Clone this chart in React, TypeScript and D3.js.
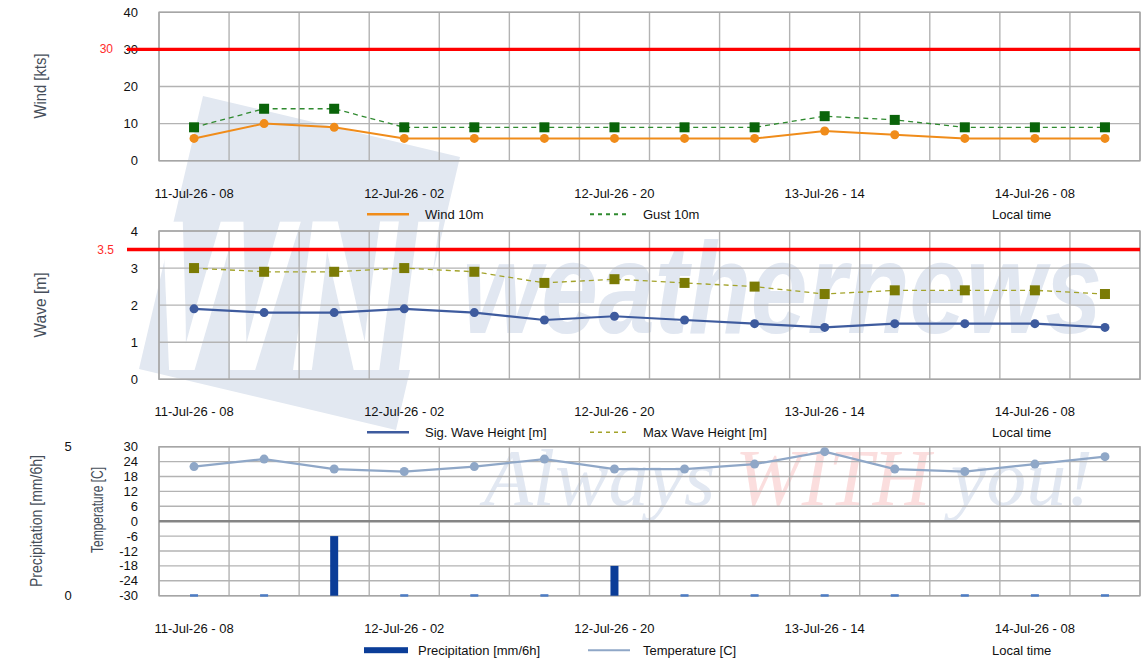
import React from 'react';
import * as d3 from 'd3';

const times = [
  '11-Jul-26 - 08', '11-Jul-26 - 14', '11-Jul-26 - 20',
  '12-Jul-26 - 02', '12-Jul-26 - 08', '12-Jul-26 - 14', '12-Jul-26 - 20',
  '13-Jul-26 - 02', '13-Jul-26 - 08', '13-Jul-26 - 14', '13-Jul-26 - 20',
  '14-Jul-26 - 02', '14-Jul-26 - 08', '14-Jul-26 - 14',
];
const wind = [6, 10, 9, 6, 6, 6, 6, 6, 6, 8, 7, 6, 6, 6];
const gust = [9, 14, 14, 9, 9, 9, 9, 9, 9, 12, 11, 9, 9, 9];
const sigWave = [1.9, 1.8, 1.8, 1.9, 1.8, 1.6, 1.7, 1.6, 1.5, 1.4, 1.5, 1.5, 1.5, 1.4];
const maxWave = [3.0, 2.9, 2.9, 3.0, 2.9, 2.6, 2.7, 2.6, 2.5, 2.3, 2.4, 2.4, 2.4, 2.3];
const precip = [0, 0, 2, 0, 0, 0, 1, 0, 0, 0, 0, 0, 0, 0];
const temp = [22, 25, 21, 20, 22, 25, 21, 21, 23, 28, 21, 20, 23, 26];

const windTicks = [0, 10, 20, 30, 40];
const waveTicks = [0, 1, 2, 3, 4];
const tempTicks = [-30, -24, -18, -12, -6, 0, 6, 12, 18, 24, 30];
const precipTicks = [0, 5];
const windLimit = 30;
const waveLimit = 3.5;

const FONT = '"Liberation Sans", Arial, sans-serif';
const W = 1144;
const H = 661;
const LEFT = 159;
const RIGHT = 1140;

const x = d3.scaleBand<number>().domain(d3.range(times.length)).range([LEFT, RIGHT]).padding(0);
const cx = (i: number) => (x(i) as number) + x.bandwidth() / 2;

const panels = [
  { top: 12.3, bottom: 160.7 },
  { top: 231, bottom: 379.3 },
  { top: 446.7, bottom: 595.7 },
];

const yWind = d3.scaleLinear().domain([0, 40]).range([panels[0].bottom, panels[0].top]);
const yWave = d3.scaleLinear().domain([0, 4]).range([panels[1].bottom, panels[1].top]);
const yTemp = d3.scaleLinear().domain([-30, 30]).range([panels[2].bottom, panels[2].top]);
const yPrec = d3.scaleLinear().domain([0, 5]).range([panels[2].bottom, panels[2].top]);

const GRID = '#b3b3b3';
const TITLE = '#464e5a';

function Grid({ top, bottom, ys }: { top: number; bottom: number; ys: number[] }) {
  const xs = d3.range(times.length + 1).map((i) => (i < times.length ? (x(i) as number) : RIGHT));
  return (
    <g>
      {ys.map((y, i) => (
        <line key={'h' + i} x1={LEFT} x2={RIGHT} y1={y} y2={y} stroke={GRID} strokeWidth={1.4} />
      ))}
      {xs.map((xx, i) => (
        <line key={'v' + i} x1={xx} x2={xx} y1={top} y2={bottom} stroke={GRID} strokeWidth={1.4} />
      ))}
      <rect x={LEFT} y={top} width={RIGHT - LEFT} height={bottom - top} fill="none" stroke="#a6a6a6" strokeWidth={1.4} />
    </g>
  );
}

function XLabels({ bottom }: { bottom: number }) {
  return (
    <g>
      {times.map((t, i) =>
        i % 3 === 0 ? (
          <text key={i} x={cx(i)} y={bottom + 37} textAnchor="middle" fontSize={13} fontFamily={FONT} fill="#111">
            {t}
          </text>
        ) : null
      )}
    </g>
  );
}

function YLabels({ ticks, scale, xr }: { ticks: number[]; scale: (v: number) => number; xr: number }) {
  return (
    <g>
      {ticks.map((t) => (
        <text key={t} x={xr} y={scale(t) + 4.5} textAnchor="end" fontSize={13} fontFamily={FONT} fill="#111">
          {t}
        </text>
      ))}
    </g>
  );
}

function VTitle({ cxp, cyp, text, len, size }: { cxp: number; cyp: number; text: string; len: number; size: number }) {
  return (
    <text
      transform={`translate(${cxp},${cyp}) rotate(-90)`}
      x={-len / 2}
      y={size * 0.36}
      fontSize={size}
      fontFamily={FONT}
      fill={TITLE}
      textLength={len}
      lengthAdjust="spacingAndGlyphs"
    >
      {text}
    </text>
  );
}

function Legend({ y, items }: { y: number; items: { tx: number; label: string; swatch: React.ReactNode }[] }) {
  return (
    <g>
      {items.map((it, i) => (
        <g key={i}>
          {it.swatch}
          <text x={it.tx} y={y + 4.5} fontSize={13} fontFamily={FONT} fill="#111">
            {it.label}
          </text>
        </g>
      ))}
      <text x={992} y={y + 4.5} fontSize={13} fontFamily={FONT} fill="#111">
        Local time
      </text>
    </g>
  );
}

export default function App() {
  const windLine = d3.line<number>().x((_, i) => cx(i)).y((d) => yWind(d));
  const sigLine = d3.line<number>().x((_, i) => cx(i)).y((d) => yWave(d));
  const tempLine = d3.line<number>().x((_, i) => cx(i)).y((d) => yTemp(d));

  const leg1 = panels[0].bottom + 53.5;
  const leg2 = panels[1].bottom + 53;
  const leg3 = panels[2].bottom + 54.5;
  const barW = 8;

  return (
    <svg width={W} height={H} style={{ position: 'absolute', left: 0, top: 0, background: '#fff' }}>
      <rect x={0} y={0} width={W} height={H} fill="#fff" />

      {/* watermark */}
      <g>
        <polygon points="203,96 460,157 396,430 139,369" fill="#e2e8f1" />
        <text x={152} y={370} fontSize={215} fontWeight={700} fontStyle="italic" fontFamily={FONT} fill="#fff" textLength={285} lengthAdjust="spacingAndGlyphs">
          WNI
        </text>
        <text x={462} y={333} fontSize={130} fontWeight={700} fontStyle="italic" fontFamily={FONT} fill="#e1e7f1" textLength={640} lengthAdjust="spacingAndGlyphs">
          weathernews
        </text>
        <text x={484} y={505} fontSize={80} fontStyle="italic" fontFamily={'"Liberation Serif", "Times New Roman", serif'}>
          <tspan fill="#e2e8f2">Always </tspan>
          <tspan fill="#fbdede">WITH </tspan>
          <tspan fill="#e2e8f2">you!</tspan>
        </text>
      </g>

      {/* Panel 1: wind */}
      <Grid top={panels[0].top} bottom={panels[0].bottom} ys={windTicks.map((t) => yWind(t))} />
      <YLabels ticks={windTicks} scale={yWind} xr={138} />
      <text x={113} y={yWind(windLimit) + 4} textAnchor="end" fontSize={12} fontFamily={FONT} fill="#ff2a2a">{windLimit}</text>
      <line x1={127} x2={RIGHT} y1={yWind(windLimit)} y2={yWind(windLimit)} stroke="#ff0000" strokeWidth={3.4} />
      <path d={windLine(gust) || ''} fill="none" stroke="#2f8a2f" strokeWidth={1.3} strokeDasharray="5,4" />
      {gust.map((d, i) => (
        <rect key={i} x={cx(i) - 5} y={yWind(d) - 5} width={10} height={10} fill="#0a640a" />
      ))}
      <path d={windLine(wind) || ''} fill="none" stroke="#f08c1a" strokeWidth={2} />
      {wind.map((d, i) => (
        <circle key={i} cx={cx(i)} cy={yWind(d)} r={4.5} fill="#f08c1a" />
      ))}
      <VTitle cxp={40} cyp={86} text="Wind [kts]" len={65} size={16} />
      <XLabels bottom={panels[0].bottom} />
      <Legend
        y={leg1}
        items={[
          { tx: 425, label: 'Wind 10m', swatch: <line x1={367} x2={409} y1={leg1} y2={leg1} stroke="#f08c1a" strokeWidth={2.5} /> },
          { tx: 643, label: 'Gust 10m', swatch: <line x1={590} x2={628} y1={leg1} y2={leg1} stroke="#2f8a2f" strokeWidth={2} strokeDasharray="4,4" /> },
        ]}
      />

      {/* Panel 2: wave */}
      <Grid top={panels[1].top} bottom={panels[1].bottom} ys={waveTicks.map((t) => yWave(t))} />
      <YLabels ticks={waveTicks} scale={yWave} xr={138} />
      <text x={114} y={yWave(waveLimit) + 4} textAnchor="end" fontSize={12} fontFamily={FONT} fill="#ff2a2a">{waveLimit}</text>
      <line x1={127} x2={RIGHT} y1={yWave(waveLimit)} y2={yWave(waveLimit)} stroke="#ff0000" strokeWidth={3.4} />
      <path d={sigLine(maxWave) || ''} fill="none" stroke="#a3a32a" strokeWidth={1.3} strokeDasharray="5,4" />
      {maxWave.map((d, i) => (
        <rect key={i} x={cx(i) - 5} y={yWave(d) - 5} width={10} height={10} fill="#7b7b05" />
      ))}
      <path d={sigLine(sigWave) || ''} fill="none" stroke="#3e5b9e" strokeWidth={2.2} />
      {sigWave.map((d, i) => (
        <circle key={i} cx={cx(i)} cy={yWave(d)} r={4.5} fill="#3e5b9e" />
      ))}
      <VTitle cxp={40} cyp={305} text="Wave [m]" len={65} size={16} />
      <XLabels bottom={panels[1].bottom} />
      <Legend
        y={leg2}
        items={[
          { tx: 425, label: 'Sig. Wave Height [m]', swatch: <line x1={367} x2={409} y1={leg2} y2={leg2} stroke="#3e5b9e" strokeWidth={2.5} /> },
          { tx: 643, label: 'Max Wave Height [m]', swatch: <line x1={590} x2={628} y1={leg2} y2={leg2} stroke="#a3a32a" strokeWidth={1.5} strokeDasharray="4,4" /> },
        ]}
      />

      {/* Panel 3: precipitation & temperature */}
      <Grid top={panels[2].top} bottom={panels[2].bottom} ys={tempTicks.map((t) => yTemp(t))} />
      <line x1={LEFT} x2={RIGHT} y1={yTemp(0)} y2={yTemp(0)} stroke="#858585" strokeWidth={2.6} />
      <YLabels ticks={tempTicks} scale={yTemp} xr={138} />
      {precipTicks.map((t) => (
        <text key={t} x={68} y={yPrec(t) + 4.5} textAnchor="middle" fontSize={13} fontFamily={FONT} fill="#111">
          {t}
        </text>
      ))}
      {precip.map((d, i) =>
        d > 0 ? (
          <rect key={i} x={cx(i) - barW / 2} y={yPrec(d)} width={barW} height={yPrec(0) - yPrec(d)} fill="#0b3d98" />
        ) : (
          <rect key={i} x={cx(i) - barW / 2} y={yPrec(0) - 1.5} width={barW} height={2.5} fill="#4d7cc4" />
        )
      )}
      <path d={tempLine(temp) || ''} fill="none" stroke="#8fa7c7" strokeWidth={2.2} />
      {temp.map((d, i) => (
        <circle key={i} cx={cx(i)} cy={yTemp(d)} r={4.5} fill="#8fa7c7" />
      ))}
      <VTitle cxp={36} cyp={521} text="Precipitation [mm/6h]" len={132} size={17} />
      <VTitle cxp={97} cyp={510} text="Temperature [C]" len={86} size={17} />
      <XLabels bottom={panels[2].bottom} />
      <Legend
        y={leg3}
        items={[
          { tx: 418, label: 'Precipitation [mm/6h]', swatch: <rect x={364} y={leg3 - 3} width={44} height={6} fill="#0b3d98" /> },
          { tx: 643, label: 'Temperature [C]', swatch: <line x1={588} x2={630} y1={leg3} y2={leg3} stroke="#8fa7c7" strokeWidth={2} /> },
        ]}
      />
    </svg>
  );
}
